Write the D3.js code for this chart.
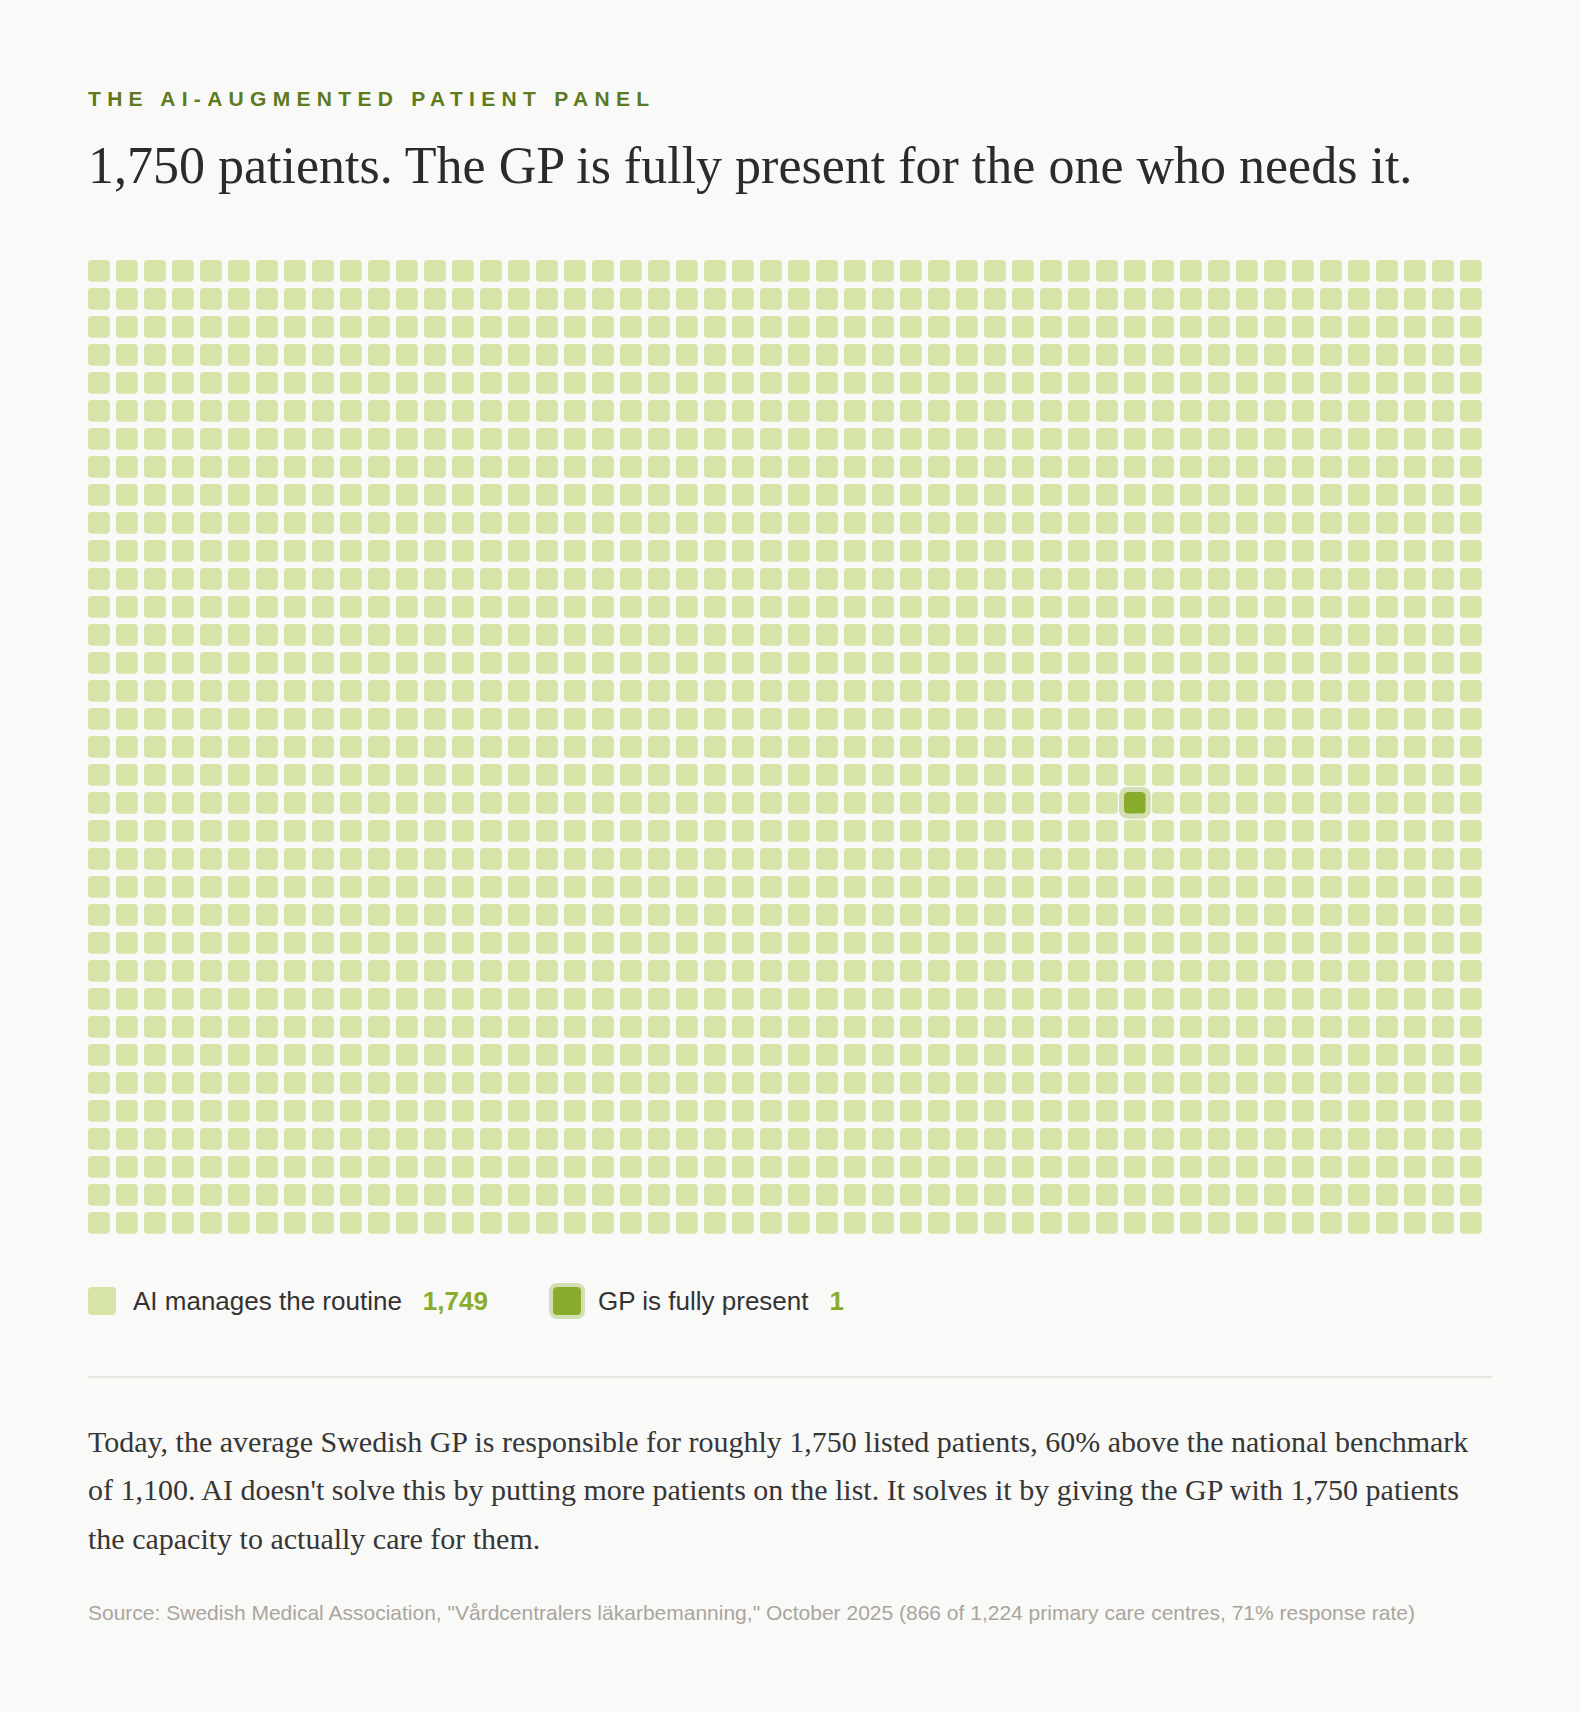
<!DOCTYPE html>
<html>
<head>
<meta charset="utf-8">
<script src="https://cdn.jsdelivr.net/npm/d3@7"></script>
<style>
  html, body { margin: 0; padding: 0; background: #f9f9f7; }
  svg { display: block; }
</style>
</head>
<body>
<div id="chart"></div>
<script>
// data
const categories = ['AI manages the routine', 'GP is fully present'];
const counts = [1749, 1];
const columns = 50;
const highlightIndex = 987; // row 19, col 37
const kicker = 'THE AI-AUGMENTED PATIENT PANEL';
const title = '1,750 patients. The GP is fully present for the one who needs it.';
const bodyLines = [
    'Today, the average Swedish GP is responsible for roughly 1,750 listed patients, 60% above the national benchmark',
    "of 1,100. AI doesn't solve this by putting more patients on the list. It solves it by giving the GP with 1,750 patients",
    'the capacity to actually care for them.'
];
const source = 'Source: Swedish Medical Association, "Vårdcentralers läkarbemanning," October 2025 (866 of 1,224 primary care centres, 71% response rate)';

const W = 1580, H = 1712;
const left = 88;
const light = '#d6e4a8', dark = '#8aac2c', halo = '#d3dfb2';
const sans = '"Liberation Sans", Arial, sans-serif';
const serif = '"Liberation Serif", "Times New Roman", serif';

const svg = d3.select('#chart').append('svg')
    .attr('width', W)
    .attr('height', H);

// header
svg.append('text')
    .attr('x', left).attr('y', 106)
    .attr('font-family', sans).attr('font-weight', 700)
    .attr('font-size', 21).attr('letter-spacing', '6.3px')
    .attr('fill', '#5d7a1e')
    .text(kicker);

svg.append('text')
    .attr('x', left).attr('y', 183)
    .attr('font-family', serif).attr('font-size', 52)
    .attr('fill', '#2b2b2b')
    .text(title);

// waffle grid
const total = d3.sum(counts);
const rows = Math.ceil(total / columns);
const cells = d3.range(total).map(i => ({
    i,
    col: i % columns,
    row: Math.floor(i / columns),
    cat: i === highlightIndex ? 1 : 0
}));

const pad = 0.2214;
const x = d3.scaleBand().domain(d3.range(columns)).range([left, left + 28 * (columns - pad)]).paddingInner(pad);
const y = d3.scaleBand().domain(d3.range(rows)).range([260, 260 + 28 * (rows - pad)]).paddingInner(pad);
const color = d3.scaleOrdinal().domain([0, 1]).range([light, dark]);

const g = svg.append('g');
g.selectAll('rect.cell')
    .data(cells)
    .join('rect')
    .attr('class', 'cell')
    .attr('x', d => x(d.col))
    .attr('y', d => y(d.row))
    .attr('width', x.bandwidth())
    .attr('height', y.bandwidth())
    .attr('rx', 4)
    .attr('fill', d => color(d.cat));

// halo around the highlighted patient
const hl = cells.filter(d => d.cat === 1);
g.selectAll('rect.halo')
    .data(hl)
    .join('rect')
    .attr('class', 'halo')
    .attr('x', d => x(d.col) - 2.5)
    .attr('y', d => y(d.row) - 2.5)
    .attr('width', x.bandwidth() + 5)
    .attr('height', y.bandwidth() + 5)
    .attr('rx', 6)
    .attr('fill', 'none')
    .attr('stroke', halo)
    .attr('stroke-width', 5);

// legend
const legendX = [left, 553];
const legend = svg.append('g').selectAll('g')
    .data(categories.map((c, i) => ({ c, n: counts[i], i })))
    .join('g')
    .attr('transform', d => `translate(${legendX[d.i]},1287)`);

legend.filter(d => d.i === 1).append('rect')
    .attr('x', -2).attr('y', -2)
    .attr('width', 32).attr('height', 32)
    .attr('rx', 6)
    .attr('fill', 'none')
    .attr('stroke', halo)
    .attr('stroke-width', 4);

legend.append('rect')
    .attr('width', 28).attr('height', 28)
    .attr('rx', 4)
    .attr('fill', d => color(d.i));

const lt = legend.append('text')
    .attr('x', 45).attr('y', 23)
    .attr('font-family', sans).attr('font-size', 26)
    .attr('fill', '#333');
lt.append('tspan').text(d => d.c);
lt.append('tspan')
    .attr('dx', 21)
    .attr('font-weight', 700)
    .attr('fill', dark)
    .text(d => d3.format(',')(d.n));

// divider
svg.append('line')
    .attr('x1', left).attr('x2', 1492)
    .attr('y1', 1377).attr('y2', 1377)
    .attr('stroke', '#e0ddd6').attr('stroke-width', 1.5);

// body
svg.append('g').selectAll('text')
    .data(bodyLines)
    .join('text')
    .attr('x', left)
    .attr('y', (d, i) => 1452 + i * 48.3)
    .attr('font-family', serif).attr('font-size', 30)
    .attr('fill', '#363636')
    .text(d => d);

svg.append('text')
    .attr('x', left).attr('y', 1620)
    .attr('font-family', sans).attr('font-size', 21)
    .attr('fill', '#aaa59e')
    .text(source);
</script>
</body>
</html>
